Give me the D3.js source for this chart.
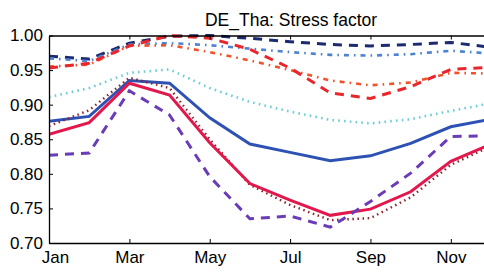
<!DOCTYPE html>
<html><head><meta charset="utf-8">
<script src="https://cdn.jsdelivr.net/npm/d3@7"></script>
<style>body{margin:0;background:#fff;overflow:hidden}svg{display:block}text{font-family:"Liberation Sans",Arial,sans-serif}</style>
</head><body><svg id="c" width="484" height="272"></svg>
<script>
const months = ["Jan","Feb","Mar","Apr","May","Jun","Jul","Aug","Sep","Oct","Nov","Dec"];
const tickMonths = ["Jan","Mar","May","Jul","Sep","Nov"];
const yTicks = [0.70,0.75,0.80,0.85,0.90,0.95,1.00];
const title = "DE_Tha: Stress factor";

const navyDashed   = [0.970,0.966,0.989,0.999,1.000,0.996,0.991,0.987,0.985,0.987,0.990,0.983];
const blueDashDot  = [0.967,0.963,0.987,0.989,0.986,0.981,0.976,0.972,0.971,0.973,0.978,0.974];
const orangeDashDot= [0.955,0.958,0.985,0.986,0.976,0.964,0.950,0.935,0.928,0.932,0.946,0.945];
const redDashed    = [0.953,0.960,0.985,1.000,0.996,0.980,0.953,0.917,0.909,0.926,0.951,0.954];
const cyanDotted   = [0.911,0.924,0.946,0.951,0.924,0.904,0.890,0.878,0.873,0.879,0.891,0.902];
const blueSolid    = [0.876,0.883,0.935,0.931,0.881,0.843,0.831,0.819,0.826,0.844,0.868,0.879];
const crimsonSolid = [0.857,0.874,0.931,0.914,0.845,0.786,0.762,0.740,0.749,0.774,0.818,0.843];
const darkRedDotted= [0.869,0.892,0.939,0.924,0.850,0.784,0.755,0.733,0.736,0.766,0.813,0.840];
const purpleDashed = [0.827,0.830,0.920,0.885,0.796,0.735,0.739,0.723,0.760,0.801,0.854,0.855];

const series = [
  {v: cyanDotted,    c:"#6cccd8", d:"1.6,4.2", w:2.6},
  {v: navyDashed,    c:"#1c2b6e", d:"9,7",     w:3},
  {v: blueDashDot,   c:"#4d82d2", d:"5,5,1.6,5", w:2.6},
  {v: orangeDashDot, c:"#f2522a", d:"5,5,1.6,5", w:2.6},
  {v: redDashed,     c:"#e8262c", d:"9,7",     w:3},
  {v: blueSolid,     c:"#2e52b4", d:null,      w:3},
  {v: darkRedDotted, c:"#8e2028", d:"1.5,3.6", w:2.4},
  {v: crimsonSolid,  c:"#e2184c", d:null,      w:3},
  {v: purpleDashed,  c:"#6a3cb6", d:"9,7",     w:3}
];

const svg = d3.select("#c");
const L = 49, R = 491, T = 35.5, B = 243;
const x = d3.scaleLinear().domain([0,11]).range([L,R]);
const y = d3.scaleLinear().domain([0.70,1.00]).range([B,T]);

const defs = svg.append("defs");
defs.append("clipPath").attr("id","clip").append("rect")
  .attr("x",L).attr("y",T-2).attr("width",R-L).attr("height",B-T+2);

const g = svg.append("g").attr("clip-path","url(#clip)");
const line = d3.line().x((d,i)=>x(i)).y(d=>y(d));
series.forEach(s=>{
  g.append("path").attr("d",line(s.v)).attr("fill","none")
   .attr("stroke",s.c).attr("stroke-width",s.w)
   .attr("stroke-dasharray",s.d).attr("stroke-linejoin","miter");
});

const tickIdx = tickMonths.map(m=>months.indexOf(m));
const xAxis = d3.axisBottom(x).tickValues(tickIdx).tickFormat(i=>months[i]).tickSizeInner(-4).tickSizeOuter(0).tickPadding(8);
const xg = svg.append("g").attr("transform",`translate(0,${B})`).call(xAxis);
const xTop = d3.axisTop(x).tickValues(tickIdx).tickFormat("").tickSizeInner(-4).tickSizeOuter(0);
const xtg = svg.append("g").attr("transform",`translate(0,${T})`).call(xTop);
const yAxis = d3.axisLeft(y).tickValues(yTicks).tickFormat(d3.format(".2f")).tickSizeInner(-4).tickSizeOuter(0).tickPadding(6);
const yg = svg.append("g").attr("transform",`translate(${L},0)`).call(yAxis);
[xg,xtg,yg].forEach(a=>{
  a.selectAll("path.domain").attr("stroke","#000").attr("stroke-width",1.3);
  a.selectAll("line").attr("stroke","#000");
  a.selectAll("text").attr("fill","#000").style("font-size","17px");
});
xg.selectAll("text").attr("dy","0.71em");
xg.selectAll(".tick").filter(d=>d===0).select("text").attr("x",6);

svg.append("text").attr("x",291).attr("y",26).attr("text-anchor","middle")
  .style("font-size","17.5px").attr("fill","#000").text(title);
</script></body></html>
